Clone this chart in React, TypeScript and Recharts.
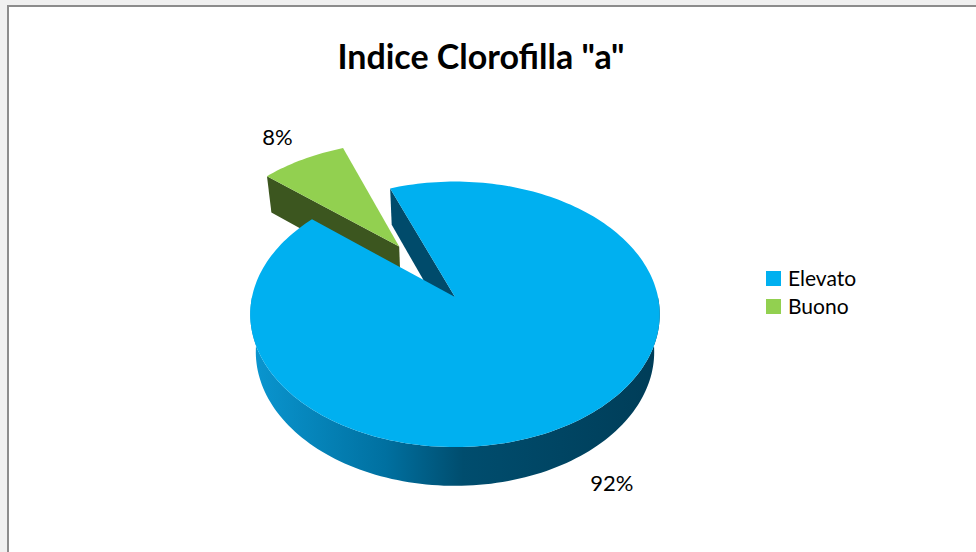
import React from "react";
import { PieChart, Pie, Legend } from "recharts";

// values
const categories = ["Elevato", "Buono"];
const values = [92, 8];
const topColors = ["#00B0F0", "#92D050"];
const faceColors = ["#004B6B", "#3C561F"];
const drawOrder = ["Buono", "Elevato"]; // far slice first, near slice paints over it

const explode: Record<string, number> = { Elevato: 0, Buono: 0.5 };

// fake 3d view: tilt of the disc, camera distance and thickness (in radius units)
const TILT = (40 * Math.PI) / 180;
const DIST = 5.87;
const THICK = 0.25;

const FONT = "Lato, 'Open Sans', sans-serif";

const pieData = drawOrder.map((n) => ({
  name: n,
  value: values[categories.indexOf(n)],
}));

const rad = (d: number) => (d * Math.PI) / 180;

function project(cx: number, cy: number, R: number, x: number, y: number, z: number) {
  const s = Math.sin(TILT);
  const c = Math.cos(TILT);
  const up = y * c + z * s;
  const depth = DIST + z * c - y * s;
  const k = (R * DIST) / depth;
  return [cx + x * k, cy - up * k];
}

const toPath = (pts: number[][]) =>
  pts.map((p, i) => `${i ? "L" : "M"}${p[0].toFixed(2)},${p[1].toFixed(2)}`).join(" ") + " Z";

const Slice3D = (props: any) => {
  const { cx, cy, outerRadius: R, startAngle: a1, endAngle: a2 } = props;
  const name = props.name ?? props.payload?.name;
  const idx = categories.indexOf(name);
  const e = explode[name] ?? 0;
  const mid = (a1 + a2) / 2;
  const ox = e * Math.cos(rad(mid));
  const oz = e * Math.sin(rad(mid));
  const P = (x: number, y: number, z: number) => project(cx, cy, R, ox + x, y, oz + z);

  const n = Math.max(2, Math.ceil(Math.abs(a1 - a2) / 1.5));
  const angs: number[] = [];
  for (let i = 0; i <= n; i++) angs.push(a1 + ((a2 - a1) * i) / n);

  const rim = (y: number, a: number) => P(Math.cos(rad(a)), y, Math.sin(rad(a)));

  // top face
  const top = [P(0, 0, 0), ...angs.map((a) => rim(0, a))];

  // radial cut faces that turn toward the viewer
  const faces: string[] = [];
  if (Math.sin(rad(a1 + 90)) < 0)
    faces.push(toPath([P(0, 0, 0), rim(0, a1), rim(-THICK, a1), P(0, -THICK, 0)]));
  if (Math.sin(rad(a2 - 90)) < 0)
    faces.push(toPath([P(0, 0, 0), rim(0, a2), rim(-THICK, a2), P(0, -THICK, 0)]));

  // outer wall, only the near half
  const walls: string[] = [];
  let run: number[] = [];
  const flush = () => {
    if (run.length > 1) {
      const up = run.map((a) => rim(0, a));
      const down = run.slice().reverse().map((a) => rim(-THICK, a));
      walls.push(toPath([...up, ...down]));
    }
    run = [];
  };
  angs.forEach((a) => {
    if (Math.sin(rad(a)) < 0.02) run.push(a);
    else flush();
  });
  flush();

  const gid = `wall-${idx}`;
  return (
    <g>
      <defs>
        <linearGradient id={gid} gradientUnits="userSpaceOnUse" x1={cx - R} y1={0} x2={cx + R} y2={0}>
          {idx === 0 ? (
            <>
              <stop offset="0" stopColor="#0A96D0" />
              <stop offset="0.33" stopColor="#0070A0" />
              <stop offset="0.52" stopColor="#004D6E" />
              <stop offset="1" stopColor="#003D58" />
            </>
          ) : (
            <>
              <stop offset="0" stopColor="#5E8A2E" />
              <stop offset="1" stopColor="#3C561F" />
            </>
          )}
        </linearGradient>
      </defs>
      {faces.map((d, i) => (
        <path key={`f${i}`} d={d} fill={faceColors[idx]} />
      ))}
      {walls.map((d, i) => (
        <path key={`w${i}`} d={d} fill={`url(#${gid})`} />
      ))}
      <path d={toPath(top)} fill={topColors[idx]} />
    </g>
  );
};

const renderLabel = (props: any) => {
  const { cx, cy, outerRadius: R, startAngle: a1, endAngle: a2, percent } = props;
  const name = props.name ?? props.payload?.name;
  const e = explode[name] ?? 0;
  const mid = (a1 + a2) / 2;
  const dx = Math.cos(rad(mid));
  const dz = Math.sin(rad(mid));
  const near = dz < 0;
  const r = near ? 1.2 : 1.3;
  const y = near ? -THICK : 0;
  const [x, yy] = project(cx, cy, R, e * dx + r * dx, y, e * dz + r * dz);
  return (
    <text
      x={x}
      y={yy}
      fill="#000"
      textAnchor="middle"
      dominantBaseline="central"
      fontFamily={FONT}
      fontSize={22}
    >
      {`${Math.round(percent * 100)}%`}
    </text>
  );
};

const renderLegend = () => (
  <div style={{ fontFamily: FONT, fontSize: 21, color: "#000", lineHeight: "28px" }}>
    {categories.map((c, i) => (
      <div key={c} style={{ display: "flex", alignItems: "center" }}>
        <span
          style={{
            display: "inline-block",
            width: 15,
            height: 15,
            background: topColors[i],
            marginRight: 7,
          }}
        />
        {c}
      </div>
    ))}
  </div>
);

export default function App() {
  return (
    <div
      style={{
        position: "fixed",
        left: 0,
        top: 0,
        width: 976,
        height: 552,
        background: "#F0F0F0",
        overflow: "hidden",
      }}
    >
      <div
        style={{
          position: "absolute",
          left: 7,
          top: 5,
          width: 1000,
          height: 600,
          background: "#fff",
          borderLeft: "2px solid #8C8C8C",
          borderTop: "2px solid #8C8C8C",
        }}
      />
      <div style={{ position: "absolute", left: 0, top: 0 }}>
        <PieChart width={976} height={552} margin={{ top: 0, right: 0, bottom: 0, left: 0 }}>
          <text
            x={481}
            y={69}
            textAnchor="middle"
            fontFamily={FONT}
            fontWeight="bold"
            fontSize={34}
            fill="#000"
          >
            Indice Clorofilla "a"
          </text>
          <Pie
            data={pieData}
            dataKey="value"
            nameKey="name"
            cx={455}
            cy={297}
            outerRadius={203}
            startAngle={139.8}
            endAngle={-220.2}
            stroke="none"
            isAnimationActive={false}
            labelLine={false}
            label={renderLabel}
            shape={Slice3D}
            activeShape={Slice3D}
            inactiveShape={Slice3D}
          />
          <Legend
            content={renderLegend}
            wrapperStyle={{ position: "absolute", left: 766, top: 264, width: "auto", height: "auto" }}
          />
        </PieChart>
      </div>
    </div>
  );
}
